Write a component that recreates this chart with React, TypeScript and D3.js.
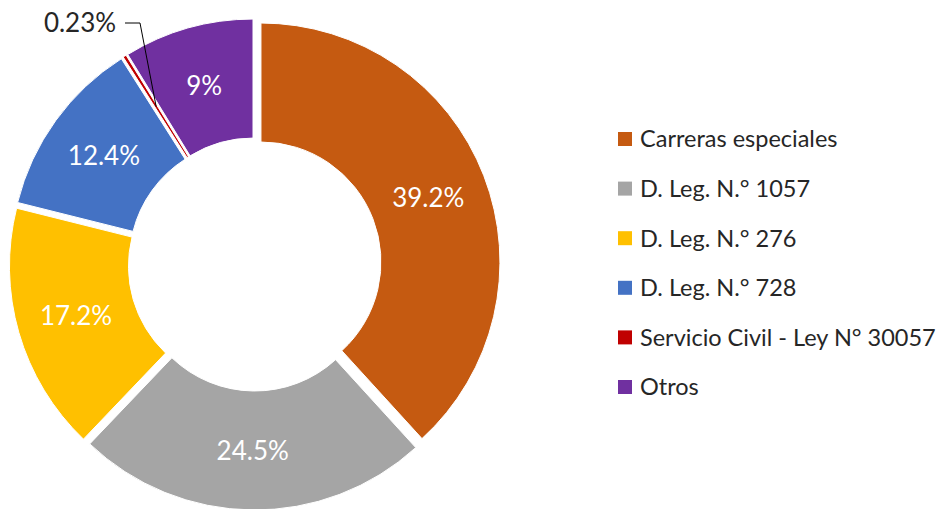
import React from "react";
import * as d3 from "d3";

const categories = [
  "Carreras especiales",
  "D. Leg. N.° 1057",
  "D. Leg. N.° 276",
  "D. Leg. N.° 728",
  "Servicio Civil - Ley N° 30057",
  "Otros",
];
const values = [39.2, 24.5, 17.2, 12.4, 0.23, 9];
const valueLabels = ["39.2%", "24.5%", "17.2%", "12.4%", "0.23%", "9%"];
const colors = ["#C55A11", "#A5A5A5", "#FFC000", "#4472C4", "#C00000", "#7030A0"];

const W = 936;
const H = 509;
const CX = 254.8;
const CY = 264.4;
const R_OUT = 239;
const R_IN = 120;
const EXPLODE = 6.6;
const FONT = "Lato, 'Open Sans', sans-serif";

export default function App() {
  const data = categories.map((c, i) => ({ name: c, value: values[i], label: valueLabels[i], color: colors[i] }));
  const pie = d3.pie<any>().sort(null).value((d: any) => d.value);
  const arcs = pie(data);
  const arc = d3.arc<any>().innerRadius(R_IN).outerRadius(R_OUT);

  const offset = (a: any) => {
    const mid = (a.startAngle + a.endAngle) / 2;
    return [Math.sin(mid) * EXPLODE, -Math.cos(mid) * EXPLODE];
  };

  return (
    <svg width={W} height={H} style={{ position: "absolute", left: 0, top: 0, background: "#fff" }}>
      <g transform={`translate(${CX},${CY})`}>
        {arcs.map((a, i) => {
          const [ox, oy] = offset(a);
          return (
            <path
              key={i}
              d={arc(a) as string}
              transform={`translate(${ox},${oy})`}
              fill={a.data.color}
              stroke="#fff"
              strokeWidth={1}
            />
          );
        })}
        {arcs.map((a, i) => {
          const [ox, oy] = offset(a);
          const [x, y] = arc.centroid(a);
          if (a.data.value < 1) {
            const tx = 80 - CX;
            const ty = 23 - CY;
            return (
              <g key={"l" + i}>
                <polyline
                  points={`${tx + 45},${ty} ${140 - CX},${ty} ${x + ox},${y + oy}`}
                  fill="none"
                  stroke="#000"
                  strokeWidth={1}
                />
                <text
                  x={tx}
                  y={ty}
                  dy="0.36em"
                  textAnchor="middle"
                  fontFamily={FONT}
                  fontSize={26}
                  fill="#262626"
                >
                  {a.data.label}
                </text>
              </g>
            );
          }
          return (
            <text
              key={"l" + i}
              x={x + ox}
              y={y + oy}
              dy="0.36em"
              textAnchor="middle"
              fontFamily={FONT}
              fontSize={26}
              fill="#fff"
            >
              {a.data.label}
            </text>
          );
        })}
      </g>
      <g>
        {data.map((d, i) => {
          const y = 139 + i * 49.6;
          return (
            <g key={"lg" + i}>
              <rect x={618} y={y - 7} width={14} height={14} fill={d.color} />
              <text x={640} y={y} dy="0.36em" fontFamily={FONT} fontSize={23.5} fill="#262626">
                {d.name}
              </text>
            </g>
          );
        })}
      </g>
    </svg>
  );
}
